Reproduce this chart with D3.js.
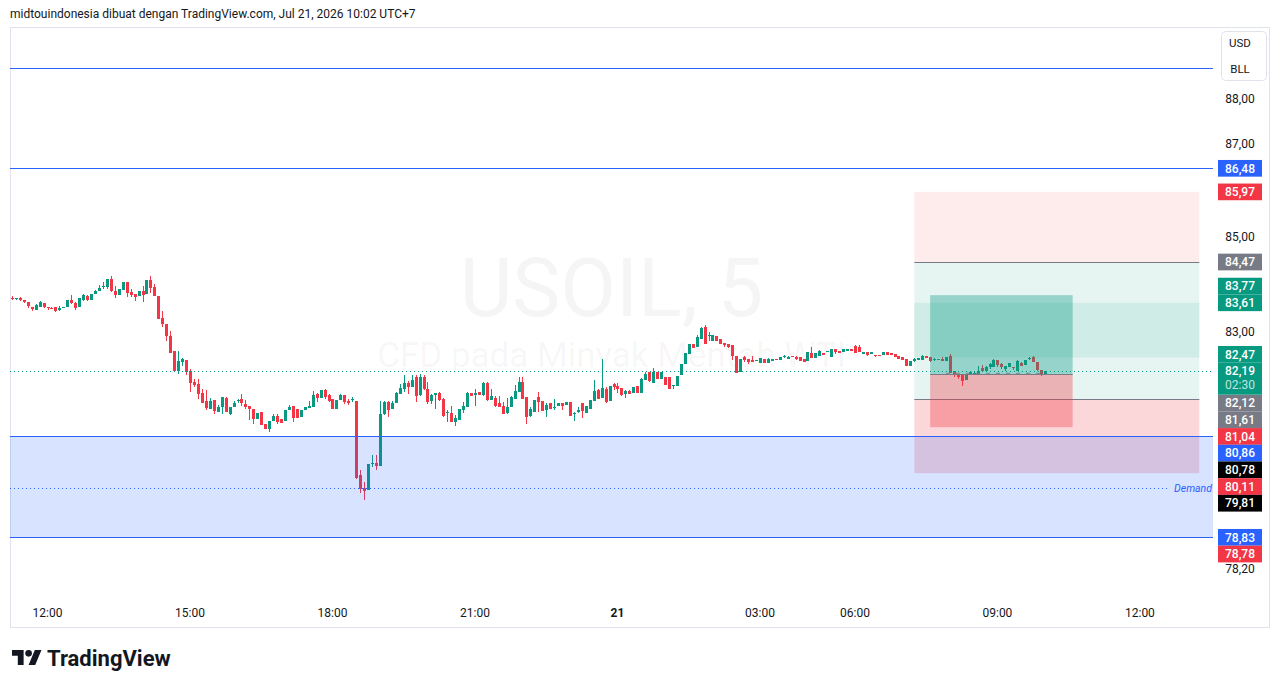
<!DOCTYPE html>
<html>
<head>
<meta charset="utf-8">
<script src="https://cdn.jsdelivr.net/npm/d3@7"></script>
<style>
body { margin: 0; background: #fff; }
svg { display: block; font-family: Roboto, "Liberation Sans", sans-serif; }
</style>
</head>
<body>
<div id="chart"></div>
<script>
// ---- data ----
const headerText = "midtouindonesia dibuat dengan TradingView.com, Jul 21, 2026 10:02 UTC+7";
const symbol = "USOIL, 5";
const description = "CFD pada Minyak Mentah WTI";

// 5 minute bars, first bar 20 Jul 11:15 (UTC+7), daily break 04:00-05:00
const startTime = "2026-07-20T11:15:00Z";
const breakStart = "2026-07-21T04:00:00Z";
const breakEnd = "2026-07-21T05:00:00Z";

// [open, high, low, close]
const candles = [
  [83.72,83.76,83.67,83.68],[83.70,83.72,83.67,83.71],[83.72,83.73,83.64,83.66],[83.66,83.66,83.60,83.62],
  [83.62,83.62,83.51,83.54],[83.53,83.53,83.43,83.47],[83.46,83.59,83.45,83.56],[83.53,83.64,83.52,83.62],
  [83.60,83.61,83.50,83.52],[83.53,83.53,83.46,83.51],[83.51,83.53,83.47,83.50],[83.53,83.53,83.41,83.43],
  [83.45,83.55,83.43,83.50],[83.50,83.53,83.50,83.52],[83.52,83.67,83.52,83.67],[83.66,83.77,83.58,83.61],
  [83.60,83.62,83.45,83.50],[83.53,83.72,83.53,83.71],[83.67,83.80,83.64,83.78],[83.75,83.77,83.65,83.66],
  [83.66,83.80,83.66,83.79],[83.79,83.88,83.79,83.85],[83.85,83.98,83.85,83.92],[83.96,84.05,83.91,83.97],
  [83.94,84.12,83.90,84.11],[84.11,84.18,83.83,83.85],[83.85,83.96,83.70,83.77],[83.77,83.89,83.77,83.89],
  [83.87,84.04,83.87,84.04],[84.05,84.05,83.74,83.82],[83.83,83.89,83.73,83.77],[83.79,83.79,83.65,83.73],
  [83.75,83.86,83.75,83.86],[83.86,83.97,83.62,83.77],[83.79,84.08,83.79,84.08],[84.09,84.17,83.82,83.92],
  [83.95,84.01,83.75,83.75],[83.76,83.76,83.26,83.26],[83.30,83.43,83.11,83.16],[83.17,83.17,82.82,82.91],
  [82.92,83.03,82.56,82.56],[82.61,82.61,82.19,82.19],[82.20,82.61,82.13,82.39],[82.37,82.46,82.30,82.43],
  [82.41,82.41,82.10,82.17],[82.20,82.23,81.75,81.94],[81.97,82.03,81.87,81.90],[81.93,82.03,81.62,81.72],
  [81.74,81.81,81.53,81.53],[81.57,81.79,81.38,81.43],[81.41,81.63,81.41,81.58],[81.60,81.60,81.31,81.37],
  [81.34,81.50,81.34,81.46],[81.45,81.65,81.31,81.65],[81.63,81.65,81.34,81.34],[81.31,81.46,81.28,81.46],
  [81.46,81.58,81.46,81.54],[81.58,81.61,81.53,81.59],[81.61,81.72,81.48,81.53],[81.51,81.60,81.42,81.46],
  [81.47,81.47,81.19,81.42],[81.42,81.42,81.10,81.20],[81.20,81.32,81.20,81.32],[81.34,81.34,81.08,81.08],
  [81.11,81.11,81.00,81.00],[81.01,81.16,80.94,81.16],[81.16,81.31,81.16,81.27],[81.26,81.31,81.11,81.14],
  [81.20,81.20,81.12,81.12],[81.16,81.38,81.16,81.38],[81.38,81.49,81.38,81.46],[81.47,81.47,81.14,81.23],
  [81.41,81.41,81.22,81.22],[81.24,81.40,81.24,81.40],[81.39,81.45,81.39,81.45],[81.43,81.58,81.43,81.48],
  [81.46,81.77,81.46,81.69],[81.72,81.74,81.55,81.64],[81.63,81.79,81.63,81.79],[81.79,81.81,81.62,81.65],
  [81.69,81.72,81.56,81.58],[81.62,81.62,81.41,81.41],[81.41,81.60,81.41,81.60],[81.60,81.71,81.60,81.70],
  [81.69,81.69,81.52,81.55],[81.57,81.61,81.50,81.54],[81.61,81.65,81.55,81.62],[81.57,81.57,80.00,80.02],
  [80.07,80.18,79.72,79.79],[79.82,79.93,79.57,79.76],[79.77,80.29,79.77,80.29],[80.30,80.47,80.23,80.31],
  [80.32,80.47,80.17,80.26],[80.25,81.58,80.25,81.30],[81.31,81.58,81.28,81.55],[81.56,81.58,81.24,81.38],
  [81.41,81.58,81.41,81.53],[81.53,81.75,81.53,81.73],[81.72,81.93,81.72,81.84],[81.81,82.10,81.75,81.94],
  [81.95,81.99,81.72,81.86],[81.87,82.10,81.87,82.01],[82.06,82.10,81.56,81.67],[81.69,82.13,81.67,82.06],
  [82.06,82.10,81.79,81.83],[81.83,81.96,81.52,81.55],[81.57,81.72,81.52,81.69],[81.69,81.74,81.41,81.73],
  [81.73,81.75,81.58,81.60],[81.62,81.63,81.24,81.26],[81.32,81.38,81.14,81.34],[81.32,81.48,81.14,81.14],
  [81.14,81.28,81.07,81.23],[81.18,81.41,81.18,81.41],[81.38,81.55,81.32,81.47],[81.46,81.75,81.46,81.73],
  [81.73,81.73,81.67,81.67],[81.69,81.82,81.48,81.74],[81.75,81.75,81.69,81.69],[81.69,81.96,81.67,81.94],
  [81.94,81.96,81.58,81.60],[81.60,81.82,81.59,81.67],[81.63,81.67,81.45,81.47],[81.53,81.67,81.45,81.45],
  [81.48,81.56,81.30,81.30],[81.32,81.64,81.30,81.45],[81.45,81.67,81.45,81.65],[81.62,81.90,81.62,81.77],
  [81.75,82.06,81.75,81.97],[81.97,82.06,81.62,81.62],[81.65,81.65,81.11,81.24],[81.26,81.45,81.24,81.41],
  [81.34,81.60,81.34,81.60],[81.65,81.75,81.34,81.56],[81.58,81.58,81.36,81.36],[81.38,81.53,81.24,81.50],
  [81.53,81.53,81.42,81.42],[81.45,81.62,81.38,81.46],[81.48,81.53,81.48,81.53],[81.53,81.53,81.39,81.47],
  [81.49,81.55,81.49,81.55],[81.56,81.56,81.26,81.26],[81.31,81.34,81.17,81.33],[81.34,81.45,81.32,81.40],
  [81.53,81.53,81.22,81.36],[81.33,81.48,81.33,81.48],[81.41,81.60,81.41,81.60],[81.58,82.01,81.58,81.77],
  [81.80,81.82,81.62,81.62],[81.64,82.44,81.64,81.84],[81.82,81.86,81.53,81.55],[81.58,81.89,81.58,81.89],
  [81.93,81.94,81.79,81.86],[81.89,81.94,81.73,81.81],[81.84,81.84,81.67,81.69],[81.72,81.79,81.64,81.77],
  [81.77,81.80,81.71,81.71],[81.74,81.87,81.74,81.87],[81.89,81.89,81.73,81.73],[81.73,82.04,81.73,82.02],
  [82.01,82.17,82.01,82.12],[82.16,82.16,81.96,81.99],[81.94,82.26,81.94,82.17],[82.18,82.18,82.03,82.03],
  [82.03,82.17,82.03,82.17],[82.06,82.06,81.91,81.91],[82.06,82.06,81.81,81.82],[81.88,81.91,81.82,81.91],
  [81.89,82.08,81.89,82.08],[82.10,82.34,82.10,82.34],[82.34,82.56,82.34,82.56],[82.54,82.75,82.54,82.75],
  [82.75,82.75,82.67,82.67],[82.68,82.93,82.68,82.89],[82.86,83.11,82.86,83.09],[83.10,83.15,82.75,82.75],
  [82.92,82.99,82.81,82.94],[82.82,82.94,82.82,82.94],[82.92,82.92,82.82,82.82],[82.86,82.86,82.75,82.75],
  [82.78,82.78,82.69,82.73],[82.75,82.75,82.67,82.69],[82.72,82.72,82.41,82.51],[82.51,82.51,82.14,82.14],
  [82.16,82.44,82.16,82.44],[82.47,82.51,82.37,82.41],[82.44,82.44,82.34,82.37],[82.42,82.51,82.37,82.37],
  [82.40,82.42,82.39,82.41],[82.36,82.45,82.36,82.45],[82.44,82.44,82.36,82.36],[82.36,82.45,82.36,82.44],
  [82.39,82.44,82.39,82.44],[82.44,82.44,82.41,82.41],[82.42,82.49,82.42,82.47],[82.47,82.52,82.46,82.51],
  [82.44,82.51,82.43,82.49],[82.51,82.51,82.47,82.47],[82.49,82.50,82.42,82.44],[82.49,82.49,82.39,82.39],
  [82.43,82.43,82.37,82.37],[82.39,82.59,82.39,82.59],[82.57,82.68,82.45,82.45],[82.46,82.56,82.46,82.56],
  [82.51,82.63,82.51,82.61],[82.56,82.56,82.53,82.53],[82.58,82.61,82.58,82.61],[82.47,82.65,82.47,82.65],
  [82.65,82.65,82.54,82.58],[82.61,82.61,82.56,82.56],[82.58,82.65,82.58,82.65],[82.61,82.65,82.61,82.65],
  [82.65,82.65,82.60,82.60],[82.70,82.72,82.56,82.56],[82.68,82.72,82.58,82.58],[82.54,82.58,82.54,82.58],
  [82.59,82.59,82.51,82.53],[82.54,82.58,82.54,82.58],[82.53,82.53,82.49,82.51],[82.52,82.52,82.50,82.50],
  [82.53,82.58,82.53,82.58],[82.58,82.58,82.53,82.53],[82.56,82.56,82.53,82.53],[82.54,82.54,82.47,82.49],
  [82.51,82.51,82.43,82.44],[82.49,82.49,82.41,82.41],[82.44,82.44,82.29,82.30],[82.29,82.39,82.29,82.39],
  [82.39,82.46,82.37,82.44],[82.41,82.46,82.41,82.46],[82.42,82.53,82.42,82.51],[82.51,82.51,82.46,82.46],
  [82.47,82.47,82.37,82.39],[82.42,82.46,82.39,82.43],[82.43,82.44,82.43,82.44],[82.43,82.47,82.39,82.39],
  [82.39,82.47,82.39,82.47],[82.51,82.54,82.14,82.14],[82.19,82.19,82.06,82.13],[82.12,82.12,82.03,82.06],
  [82.10,82.10,81.89,81.98],[82.01,82.10,82.01,82.10],[82.10,82.17,82.10,82.17],[82.14,82.17,82.12,82.15],
  [82.13,82.30,82.13,82.20],[82.26,82.32,82.17,82.19],[82.20,82.29,82.20,82.27],[82.27,82.35,82.24,82.34],
  [82.28,82.44,82.28,82.41],[82.41,82.42,82.28,82.32],[82.34,82.36,82.24,82.27],[82.24,82.29,82.20,82.29],
  [82.28,82.36,82.28,82.36],[82.28,82.28,82.21,82.26],[82.20,82.41,82.20,82.39],[82.36,82.37,82.29,82.29],
  [82.32,82.41,82.32,82.41],[82.44,82.49,82.41,82.46],[82.47,82.51,82.37,82.37],[82.37,82.37,82.20,82.21],
  [82.21,82.21,82.08,82.12],[82.13,82.19,82.10,82.19]
];

const tickTimes = ["20 12:00", "20 15:00", "20 18:00", "20 21:00", "21 00:00", "21 03:00", "21 06:00", "21 09:00", "21 12:00"];
const tickTexts = ["12:00", "15:00", "18:00", "21:00", "21", "03:00", "06:00", "09:00", "12:00"];

const axisPrices = [88, 87, 86, 85, 84, 83, 82, 81, 80, 79, 78.2];
const currencyLines = ["USD", "BLL"];

const currentPrice = 82.19;
const countdown = "02:30";
const labelPrices = [86.48, 85.97, 84.47, 83.77, 83.61, 82.47, 82.12, 81.61, 81.04, 80.86, 80.78, 80.11, 79.81, 78.83, 78.78];
const labelKinds  = ["blue", "red", "gray", "green", "green", "green", "gray", "gray", "red", "blue", "black", "red", "black", "blue", "red"];

const horizontalLines = [88.69, 86.48];
const demandZone = [80.86, 78.83];
const demandMid = 79.81;
const demandText = "Demand";

// position tool: outer (wide) and inner (narrow) boxes
const outerFrom = "21 07:15", outerTo = "21 13:15";
const outerLevels = [85.97, 84.47, 83.61, 82.47, 81.61, 80.11];
const innerFrom = "21 07:35", innerTo = "21 10:35";
const innerLevels = [83.77, 82.12, 81.04];
const ghostFrom = "21 07:55", ghostTo = "21 09:55", ghostPrice = 82.15;

// ---- layout ----
const W = 1281, H = 688;
const plot = { left: 10, right: 1213, top: 28, bottom: 596 };
const barStep = 3.958, firstBarX = 11.9;
const colors = { green: "#089981", red: "#f23645", blue: "#2962ff", gray: "#787b86", black: "#000000", text: "#131722" };

const fmt = p => d3.format(".2f")(p).replace(".", ",");

const svg = d3.select("#chart").append("svg")
    .attr("width", W)
    .attr("height", H);

svg.append("rect").attr("width", W).attr("height", H).attr("fill", "#fff");

// bar slots (time -> bar index)
const keyFmt = d3.utcFormat("%d %H:%M");
const slots = [];
const bStart = +new Date(breakStart), bEnd = +new Date(breakEnd);
for (let t = +new Date(startTime); slots.length < 330; t += 5 * 60000) {
    if (t >= bStart && t < bEnd) continue;
    slots.push(new Date(t));
}
const slotIndex = new Map(slots.map((d, i) => [keyFmt(d), i]));

let x = d3.scaleLinear().domain([0, 1]).range([firstBarX, firstBarX + barStep]);
let y = d3.scaleLog().domain([88, 78.2]).range([98.9, 569.3]);
const xt = k => x(slotIndex.get(k));

// frame
svg.append("rect")
    .attr("x", 10.5).attr("y", 27.5)
    .attr("width", 1259).attr("height", 600)
    .attr("fill", "none")
    .attr("stroke", "#e0e3eb");

// header
svg.append("text")
    .attr("x", 10).attr("y", 18)
    .attr("font-size", 12)
    .attr("fill", colors.text)
    .text(headerText);

svg.append("defs").append("clipPath").attr("id", "plotclip")
    .append("rect")
    .attr("x", plot.left).attr("y", plot.top)
    .attr("width", plot.right - plot.left).attr("height", plot.bottom - plot.top);

const g = svg.append("g").attr("clip-path", "url(#plotclip)");
const midX = (plot.left + plot.right) / 2;

// watermark
g.append("text")
    .attr("x", midX).attr("y", 316)
    .attr("text-anchor", "middle")
    .attr("font-size", 81)
    .attr("fill", "rgba(19,23,34,0.045)")
    .text(symbol);
g.append("text")
    .attr("x", midX).attr("y", 367)
    .attr("text-anchor", "middle")
    .attr("font-size", 35)
    .attr("fill", "rgba(19,23,34,0.045)")
    .text(description);

// outer position bands (under candles)
const oX0 = xt(outerFrom), oX1 = xt(outerTo);
const band = (g0, p0, p1, fill) => g0.append("rect")
    .attr("x", oX0).attr("width", oX1 - oX0)
    .attr("y", y(p0)).attr("height", y(p1) - y(p0))
    .attr("fill", fill);
band(g, outerLevels[0], outerLevels[1], "rgba(242,54,69,0.1)");
band(g, outerLevels[1], outerLevels[4], "rgba(8,153,129,0.1)");
band(g, outerLevels[2], outerLevels[3], "rgba(8,153,129,0.1)");
band(g, outerLevels[4], outerLevels[5], "rgba(242,54,69,0.2)");
[outerLevels[1], outerLevels[4]].forEach(p => {
    g.append("line")
        .attr("x1", oX0).attr("x2", oX1)
        .attr("y1", Math.round(y(p)) + 0.5).attr("y2", Math.round(y(p)) + 0.5)
        .attr("stroke", colors.gray);
});

// candles
const cg = g.append("g").attr("shape-rendering", "crispEdges");
candles.forEach((d, i) => {
    const [o, h, l, c] = d;
    const col = c >= o ? colors.green : colors.red;
    const xc = Math.round(x(i));
    const yh = Math.round(y(h)), yl = Math.round(y(l));
    cg.append("rect")
        .attr("x", xc).attr("width", 1)
        .attr("y", yh).attr("height", Math.max(1, yl - yh))
        .attr("fill", col);
    const yt = Math.round(y(Math.max(o, c))), yb = Math.round(y(Math.min(o, c)));
    cg.append("rect")
        .attr("x", xc - 1).attr("width", 3)
        .attr("y", yt).attr("height", Math.max(1, yb - yt))
        .attr("fill", col);
});

// inner position box (over candles)
const iX0 = xt(innerFrom), iX1 = xt(innerTo);
g.append("rect")
    .attr("x", iX0).attr("width", iX1 - iX0)
    .attr("y", y(innerLevels[0])).attr("height", y(innerLevels[1]) - y(innerLevels[0]))
    .attr("fill", "rgba(8,153,129,0.36)");
g.append("rect")
    .attr("x", iX0).attr("width", iX1 - iX0)
    .attr("y", y(innerLevels[1])).attr("height", y(innerLevels[2]) - y(innerLevels[1]))
    .attr("fill", "rgba(242,54,69,0.35)");
g.append("line")
    .attr("x1", iX0).attr("x2", iX1)
    .attr("y1", Math.round(y(innerLevels[1])) + 0.5).attr("y2", Math.round(y(innerLevels[1])) + 0.5)
    .attr("stroke", colors.gray);
g.append("line")
    .attr("x1", xt(ghostFrom)).attr("x2", xt(ghostTo))
    .attr("y1", Math.round(y(ghostPrice)) + 0.5).attr("y2", Math.round(y(ghostPrice)) + 0.5)
    .attr("stroke", colors.gray).attr("stroke-opacity", 0.7)
    .attr("stroke-width", 1.5)
    .attr("stroke-dasharray", "4,6");

// demand zone
g.append("rect")
    .attr("x", plot.left).attr("width", plot.right - plot.left)
    .attr("y", y(demandZone[0])).attr("height", y(demandZone[1]) - y(demandZone[0]))
    .attr("fill", "rgba(41,98,255,0.18)");
[...demandZone, ...horizontalLines].forEach(p => {
    g.append("line")
        .attr("x1", plot.left).attr("x2", plot.right)
        .attr("y1", Math.round(y(p)) + 0.5).attr("y2", Math.round(y(p)) + 0.5)
        .attr("stroke", colors.blue);
});
const dText = g.append("text")
    .attr("x", plot.right - 1).attr("y", y(demandMid) + 4)
    .attr("text-anchor", "end")
    .attr("font-size", 10.5)
    .attr("font-style", "italic")
    .attr("fill", colors.blue)
    .text(demandText);
const dW = dText.node().getComputedTextLength();
g.append("line")
    .attr("x1", plot.left).attr("x2", plot.right - dW - 6)
    .attr("y1", Math.round(y(demandMid)) + 0.5).attr("y2", Math.round(y(demandMid)) + 0.5)
    .attr("stroke", colors.blue)
    .attr("stroke-dasharray", "1,3");

// current price line
g.append("line")
    .attr("x1", plot.left).attr("x2", plot.right)
    .attr("y1", Math.round(y(currentPrice)) + 0.5).attr("y2", Math.round(y(currentPrice)) + 0.5)
    .attr("stroke", colors.green)
    .attr("stroke-dasharray", "1,3");

// ---- price axis labels (stacked away from the current price label) ----
const labH = 16.7, curH = 32, labX = 1218, labW = 44, axisMid = 1240;
const curY = y(currentPrice);
const curTop = curY - labH / 2, curBottom = curTop + curH;
const items = labelPrices.map((p, i) => ({ p, kind: labelKinds[i], cy: y(p) }));
let lim = curTop;
items.filter(d => d.p > currentPrice).sort((a, b) => a.p - b.p).forEach(d => {
    d.cy = Math.min(d.cy, lim - labH / 2);
    lim = d.cy - labH / 2;
});
lim = curBottom;
items.filter(d => d.p < currentPrice).sort((a, b) => b.p - a.p).forEach(d => {
    d.cy = Math.max(d.cy, lim + labH / 2);
    lim = d.cy + labH / 2;
});

// axis ticks, hidden where a label sits
const ax = svg.append("g");
axisPrices.forEach(p => {
    const ty = y(p);
    const hit = items.some(d => Math.abs(d.cy - ty) < labH / 2 + 6) ||
        (ty > curTop - 6 && ty < curBottom + 6);
    if (hit) return;
    ax.append("text")
        .attr("x", axisMid).attr("y", ty + 4)
        .attr("text-anchor", "middle")
        .attr("font-size", 12)
        .attr("fill", colors.text)
        .text(fmt(p));
});

const lg = svg.append("g");
items.forEach(d => {
    lg.append("rect")
        .attr("x", labX).attr("width", labW)
        .attr("y", d.cy - labH / 2).attr("height", labH)
        .attr("fill", colors[d.kind]);
    lg.append("text")
        .attr("x", axisMid).attr("y", d.cy + 4.2)
        .attr("text-anchor", "middle")
        .attr("font-size", 12)
        .attr("font-weight", 500)
        .attr("fill", "#fff")
        .text(fmt(d.p));
});
lg.append("rect")
    .attr("x", labX).attr("width", labW)
    .attr("y", curTop).attr("height", curH)
    .attr("fill", colors.green);
lg.append("text")
    .attr("x", axisMid).attr("y", curY + 4.2)
    .attr("text-anchor", "middle")
    .attr("font-size", 12).attr("font-weight", 500)
    .attr("fill", "#fff")
    .text(fmt(currentPrice));
lg.append("text")
    .attr("x", axisMid).attr("y", curY + 18)
    .attr("text-anchor", "middle")
    .attr("font-size", 12)
    .attr("fill", "rgba(255,255,255,0.75)")
    .text(countdown);

// currency box
svg.append("rect")
    .attr("x", 1221.5).attr("y", 31.5)
    .attr("width", 45).attr("height", 49)
    .attr("rx", 4)
    .attr("fill", "#fff")
    .attr("stroke", "#e0e3eb");
currencyLines.forEach((t, i) => {
    svg.append("text")
        .attr("x", axisMid).attr("y", 47 + i * 26)
        .attr("text-anchor", "middle")
        .attr("font-size", 11.5)
        .attr("fill", colors.text)
        .text(t);
});

// time axis
tickTimes.forEach((k, i) => {
    svg.append("text")
        .attr("x", xt(k)).attr("y", 617)
        .attr("text-anchor", "middle")
        .attr("font-size", 12)
        .attr("font-weight", tickTexts[i].length <= 2 ? 700 : 400)
        .attr("fill", colors.text)
        .text(tickTexts[i]);
});

// logo
const logo = svg.append("g").attr("transform", "translate(12,646.7) scale(0.83)");
logo.append("path")
    .attr("d", "M14 22H7V11H0V4h14v18ZM28 22h-8l7.5-18h8L28 22Z")
    .attr("fill", colors.text);
logo.append("circle").attr("cx", 20).attr("cy", 8).attr("r", 4).attr("fill", colors.text);
svg.append("text")
    .attr("x", 47).attr("y", 665.5)
    .attr("font-size", 22)
    .attr("font-weight", 700)
    .attr("fill", colors.text)
    .text("TradingView");
</script>
</body>
</html>
